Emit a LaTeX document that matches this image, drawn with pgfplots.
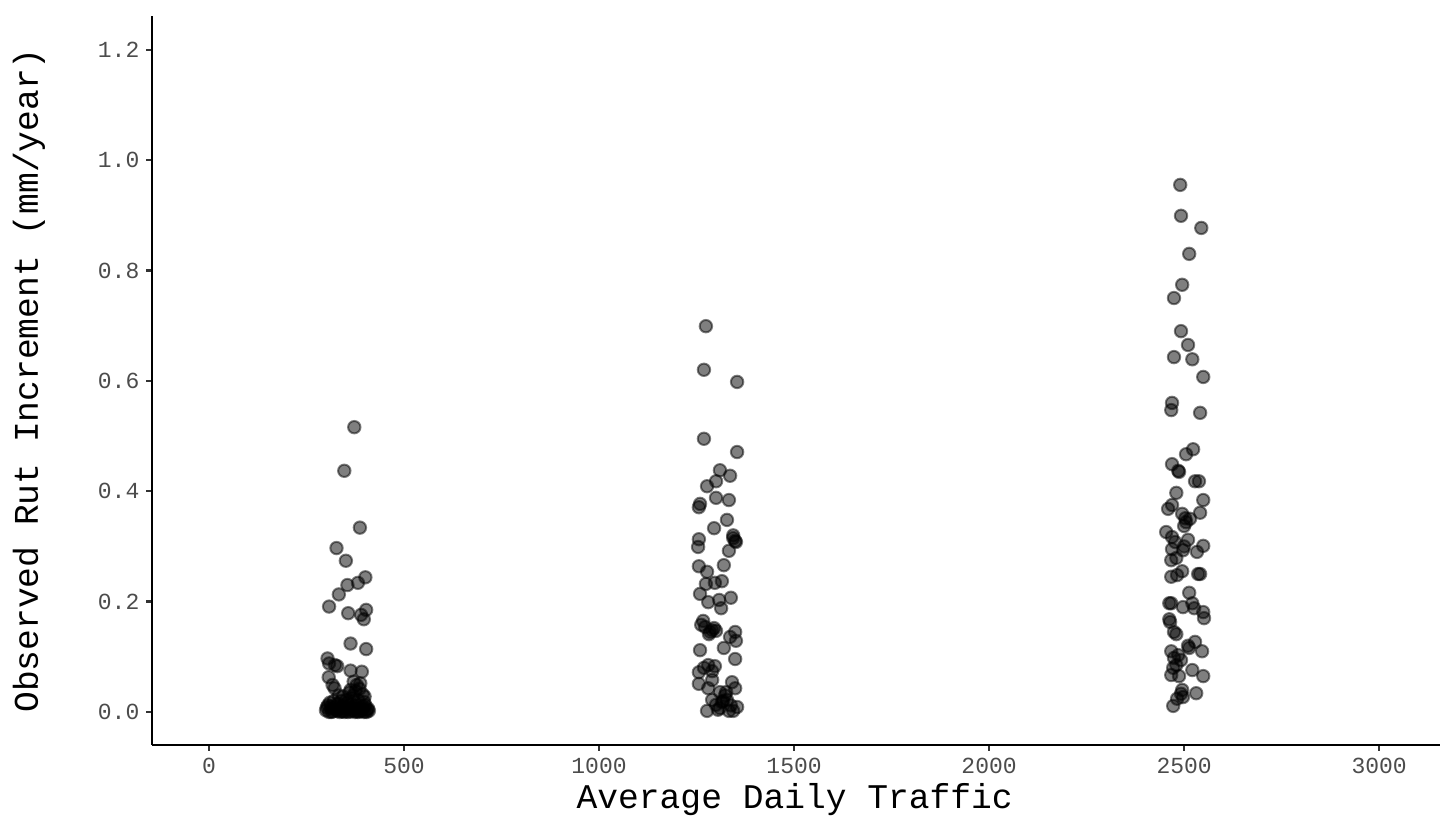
\documentclass[border=0pt]{standalone}
\usepackage{pgfplots}
\pgfplotsset{compat=1.18}
\usepackage{fontspec}
\setmainfont{Liberation Mono}
\begin{document}
\begin{tikzpicture}
\begin{axis}[
  name=ax,
  scale only axis,
  width=644pt, height=364.5pt,
  xmin=-146, xmax=3156,
  ymin=-0.0598, ymax=1.261,
  axis lines=left,
  axis line style={-, line width=1.2pt, black},
  tick align=outside,
  major tick length=2.8pt,
  tick style={line width=1.1pt, black!80},
  xtick={0,500,1000,1500,2000,2500,3000},
  ytick={0,0.2,0.4,0.6,0.8,1.0,1.2},
  /pgf/number format/assume math mode=true,
  xticklabel style={/pgf/number format/set thousands separator={}, font=\fontsize{11.5}{13}\selectfont, text=black!70},
  yticklabel style={/pgf/number format/fixed, /pgf/number format/fixed zerofill, /pgf/number format/precision=1, font=\fontsize{11.5}{13}\selectfont, text=black!70},
  xlabel={Average Daily Traffic},
  ylabel={Observed Rut Increment (mm/year)},
  xlabel style={font=\fontsize{17.3}{19}\selectfont, at={(axis description cs:0.499,-0.0754)}, anchor=center},
  ylabel style={font=\fontsize{17.3}{19}\selectfont, at={(axis description cs:-0.0955,0.5)}, anchor=center, rotate=0},
  clip=false,
]
\addplot[only marks, mark=*, mark size=3.1pt, mark options={fill=black, draw=black, line width=1pt, opacity=0.5}] table {
x y
372.6 0.516
347 0.437
387 0.334
327 0.297
351 0.274
401 0.244
382 0.234
355 0.230
333 0.213
308 0.191
357 0.179
403 0.185
390 0.176
397 0.168
363 0.124
403 0.114
304 0.097
308 0.088
329 0.083
323 0.085
363 0.075
392 0.073
307 0.063
317 0.049
322 0.043
379 0.049
386 0.042
394 0.032
370 0.030
360 0.035
352 0.022
383 0.021
398 0.018
330 0.015
305 0.012
312 0.010
340 0.008
355 0.005
368 0.003
380 0.006
392 0.002
405 0.004
300 0.003
318 0.001
326 0.004
335 0.000
345 0.002
362 0.001
374 0.000
386 0.001
398 0.000
410 0.002
308 0.000
350 0.010
395 0.010
375 0.012
339 0.020
363 0.040
371 0.055
302 0.008
315 0.006
322 0.009
332 0.005
343 0.011
348 0.000
358 0.007
366 0.014
377 0.002
389 0.008
401 0.012
408 0.006
314 0.000
329 0.002
341 0.001
357 0.000
369 0.008
382 0.000
394 0.005
404 0.000
320 0.020
333 0.030
344 0.028
366 0.025
376 0.038
388 0.052
310 0.017
356 0.017
399 0.028
1274 0.699
1269 0.620
1354 0.598
1269 0.495
1354 0.471
1310 0.438
1277 0.409
1336 0.428
1300 0.418
1259 0.377
1256 0.371
1300 0.388
1333 0.384
1295 0.333
1328 0.348
1344 0.320
1349 0.310
1256 0.313
1254 0.299
1344 0.315
1351 0.308
1333 0.292
1320 0.266
1256 0.264
1277 0.254
1315 0.237
1297 0.234
1274 0.232
1259 0.214
1308 0.203
1338 0.207
1280 0.199
1313 0.188
1267 0.165
1272 0.154
1295 0.152
1300 0.147
1282 0.141
1349 0.145
1351 0.129
1336 0.136
1320 0.116
1259 0.112
1349 0.096
1297 0.083
1269 0.080
1280 0.085
1290 0.074
1256 0.072
1290 0.058
1256 0.051
1341 0.054
1280 0.043
1349 0.043
1310 0.036
1326 0.036
1290 0.022
1300 0.013
1328 0.022
1310 0.007
1338 0.012
1354 0.009
1277 0.002
1344 0.002
1323 0.030
1315 0.018
1305 0.004
1290 0.148
1285 0.145
1262 0.158
1333 0.002
1318 0.020
2490 0.955
2492 0.899
2544 0.877
2513 0.830
2495 0.774
2474 0.750
2492 0.690
2510 0.665
2474 0.643
2521 0.639
2549 0.607
2469 0.560
2467 0.547
2541 0.542
2523 0.476
2505 0.467
2469 0.449
2485 0.437
2487 0.435
2538 0.418
2528 0.418
2480 0.397
2549 0.384
2469 0.375
2459 0.368
2495 0.359
2503 0.351
2541 0.361
2505 0.344
2500 0.337
2454 0.326
2469 0.317
2477 0.308
2510 0.312
2549 0.301
2469 0.295
2497 0.293
2533 0.290
2480 0.279
2467 0.275
2495 0.255
2536 0.250
2541 0.250
2482 0.248
2467 0.245
2513 0.216
2521 0.197
2497 0.190
2467 0.197
2462 0.197
2526 0.188
2549 0.181
2551 0.170
2462 0.168
2464 0.163
2474 0.145
2480 0.141
2528 0.127
2513 0.116
2467 0.110
2546 0.110
2474 0.098
2485 0.103
2492 0.094
2480 0.085
2521 0.076
2472 0.080
2467 0.067
2487 0.065
2549 0.065
2495 0.040
2492 0.033
2531 0.034
2482 0.024
2497 0.027
2472 0.011
2510 0.120
2500 0.300
2515 0.350
};
\end{axis}
\path ([xshift=-76pt,yshift=-43.5pt]ax.south west) rectangle ([xshift=8pt,yshift=8pt]ax.north east);
\end{tikzpicture}
\end{document}
